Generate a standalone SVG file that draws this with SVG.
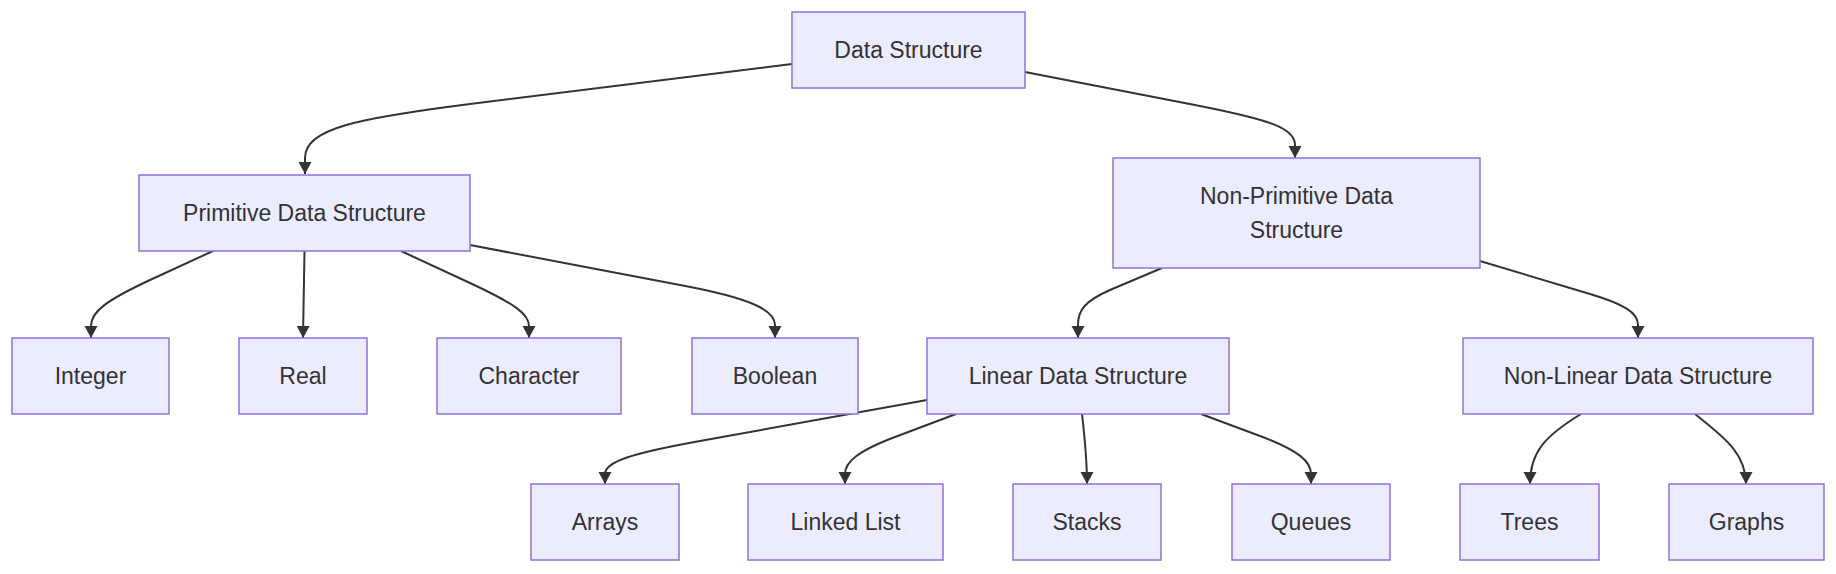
<svg xmlns="http://www.w3.org/2000/svg" width="1836" height="574" viewBox="0 0 1836 574">
<style>
.node rect{fill:#ECECFF;stroke:#9370DB;stroke-width:1.5}
.node text{font-family:"Liberation Sans",Arial,sans-serif;font-size:23px;fill:#333;text-anchor:middle}
.edges path{fill:none;stroke:#333;stroke-width:2;marker-end:url(#arrow)}
</style>
<defs>
<marker id="arrow" markerUnits="userSpaceOnUse" markerWidth="14" markerHeight="14" viewBox="0 0 14 14" refX="12" refY="7" orient="auto">
<path d="M0,0.5 L12,7 L0,13.5 z" fill="#333"/>
</marker>
</defs>
<g class="edges">
<path d="M792,64 L470,104 C360,118 305,128 305,158 L305,174"/>
<path d="M1025,72 L1200,106 C1270,120 1295,128 1295,145 L1295,158"/>
<path d="M213,251 L150,280 C105,301 91,312 91,326 L91,338"/>
<path d="M304.5,251 L303,338"/>
<path d="M401,251 L470,283 C515,304 529,314 529,326 L529,338"/>
<path d="M470,245 L680,285 C750,298 775,310 775,325 L775,338"/>
<path d="M1162,268 L1110,290 C1085,301 1078,310 1078,325 L1078,338"/>
<path d="M1480,261 L1590,294 C1625,304.5 1638,313 1638,325 L1638,338"/>
<path d="M927,400 L700,441 C630,453.6 605,462 605,474 L605,484"/>
<path d="M956,414 L895,437 C858,451 845,462 845,474 L845,484"/>
<path d="M1082,414 C1085,440 1087,460 1087,484"/>
<path d="M1201,414 L1260,436 C1300,451 1311,462 1311,474 L1311,484"/>
<path d="M1581,414 C1545,436 1530,452 1530,484"/>
<path d="M1695,414 C1722,436 1746,452 1746,484"/>
</g>
<g id="ds" class="node"><rect x="792" y="12" width="233" height="76"/><text x="908.5" y="58">Data Structure</text></g>
<g id="prim" class="node"><rect x="139" y="175" width="331" height="76"/><text x="304.5" y="221">Primitive Data Structure</text></g>
<g id="nonprim" class="node"><rect x="1113" y="158" width="367" height="110"/><text x="1296.5" y="204">Non-Primitive Data</text><text x="1296.5" y="238">Structure</text></g>
<g id="integer" class="node"><rect x="12" y="338" width="157" height="76"/><text x="90.5" y="384">Integer</text></g>
<g id="real" class="node"><rect x="239" y="338" width="128" height="76"/><text x="303" y="384">Real</text></g>
<g id="character" class="node"><rect x="437" y="338" width="184" height="76"/><text x="529" y="384">Character</text></g>
<g id="boolean" class="node"><rect x="692" y="338" width="166" height="76"/><text x="775" y="384">Boolean</text></g>
<g id="linear" class="node"><rect x="927" y="338" width="302" height="76"/><text x="1078" y="384">Linear Data Structure</text></g>
<g id="nonlinear" class="node"><rect x="1463" y="338" width="350" height="76"/><text x="1638" y="384">Non-Linear Data Structure</text></g>
<g id="arrays" class="node"><rect x="531" y="484" width="148" height="76"/><text x="605" y="530">Arrays</text></g>
<g id="linkedlist" class="node"><rect x="748" y="484" width="195" height="76"/><text x="845.5" y="530">Linked List</text></g>
<g id="stacks" class="node"><rect x="1013" y="484" width="148" height="76"/><text x="1087" y="530">Stacks</text></g>
<g id="queues" class="node"><rect x="1232" y="484" width="158" height="76"/><text x="1311" y="530">Queues</text></g>
<g id="trees" class="node"><rect x="1460" y="484" width="139" height="76"/><text x="1529.5" y="530">Trees</text></g>
<g id="graphs" class="node"><rect x="1669" y="484" width="155" height="76"/><text x="1746.5" y="530">Graphs</text></g>
</svg>
